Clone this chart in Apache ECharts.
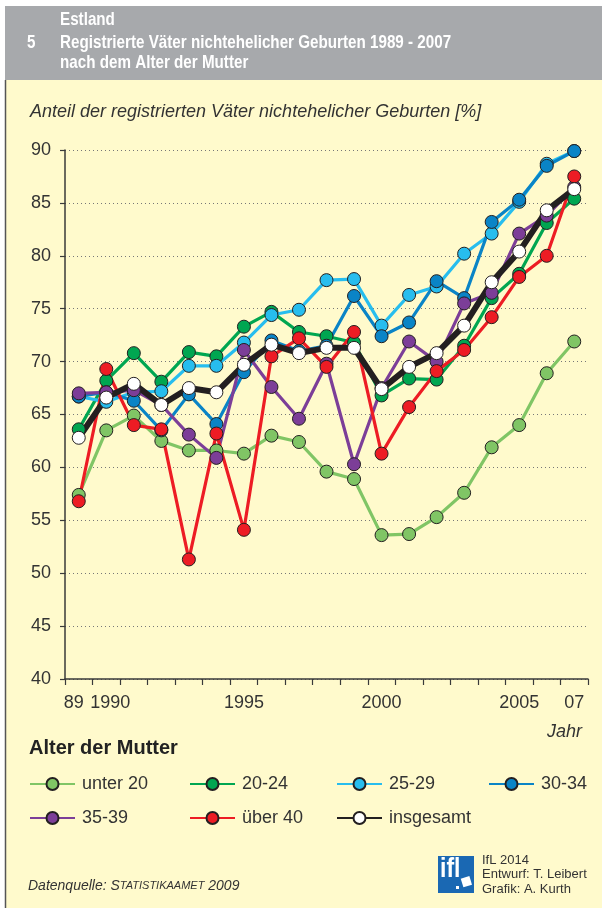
<!DOCTYPE html>
<html>
<head>
<meta charset="utf-8">
<script src="https://cdn.jsdelivr.net/npm/echarts@6/dist/echarts.min.js"></script>
<style>
  html, body { margin: 0; padding: 0; background: #fff; }
  #main { width: 602px; height: 911px; }
</style>
</head>
<body>
<div id="main"></div>
<script>
  var years = ['1989', '1990', '1991', '1992', '1993', '1994', '1995', '1996', '1997', '1998',
    '1999', '2000', '2001', '2002', '2003', '2004', '2005', '2006', '2007'];
  var xLabels = ['89', '1990', '', '', '', '', '1995', '', '', '', '', '2000', '', '', '', '', '2005', '', '07'];
  var seriesNames = ['unter 20', '20-24', '25-29', '30-34', '35-39', 'über 40', 'insgesamt'];

  var unter20 = [57.4, 63.5, 64.9, 62.5, 61.6, 61.6, 61.3, 63.0, 62.4, 59.6, 58.9, 53.6, 53.7, 55.3, 57.6, 61.9, 64.0, 68.9, 71.9];
  var age2024 = [63.6, 68.2, 70.8, 68.1, 70.9, 70.5, 73.3, 74.7, 72.8, 72.4, 71.8, 66.8, 68.4, 68.3, 71.5, 76.0, 78.3, 83.1, 85.4];
  var age2529 = [66.7, 66.2, 67.1, 67.2, 69.6, 69.6, 71.8, 74.4, 74.9, 77.7, 77.8, 73.4, 76.3, 77.1, 80.2, 82.1, 85.1, 88.7, 89.9];
  var age3034 = [66.7, 67.1, 66.3, 63.5, 66.9, 64.1, 69.0, 72.0, 71.0, 71.5, 76.2, 72.4, 73.7, 77.6, 76.0, 83.2, 85.3, 88.5, 89.9];
  var age3539 = [67.0, 67.1, 67.3, 65.9, 63.1, 60.9, 71.1, 67.6, 64.6, 69.8, 60.3, 67.5, 71.9, 70.0, 75.5, 76.5, 82.1, 83.8, 86.5];
  var ueber40 = [56.8, 69.3, 64.0, 63.6, 51.3, 63.2, 54.1, 70.5, 72.2, 69.5, 72.8, 61.3, 65.7, 69.1, 71.1, 74.2, 78.0, 80.0, 87.5];
  var insgesamt = [62.8, 66.6, 67.9, 65.9, 67.5, 67.1, 69.7, 71.6, 70.8, 71.3, 71.3, 67.4, 69.5, 70.8, 73.4, 77.5, 80.4, 84.3, 86.3];

  var font = "'Liberation Sans', Arial, sans-serif";
  var textColor = '#333';
  var outline = '#231f20';

  var colors = ['#80c565', '#00a651', '#27bdee', '#0a84c6', '#7c3e98', '#ed1c24', '#231f20'];
  var values = [unter20, age2024, age2529, age3034, age3539, ueber40, insgesamt];

  // legend positions (two rows)
  var legendLeft = [29, 189, 336, 488, 29, 189, 336];
  var legendTop = [775, 775, 775, 775, 809, 809, 809];

  var series = seriesNames.map(function (name, i) {
    var isTotal = name === 'insgesamt';
    return {
      name: name,
      type: 'line',
      data: values[i],
      symbol: 'circle',
      symbolSize: 13,
      lineStyle: { color: colors[i], width: isTotal ? 6 : 3.2 },
      itemStyle: {
        color: isTotal ? '#ffffff' : colors[i],
        borderColor: outline,
        borderWidth: 1
      },
      emphasis: { disabled: true }
    };
  });

  var legends = seriesNames.map(function (name, i) {
    return {
      data: [name],
      left: legendLeft[i],
      top: legendTop[i],
      padding: 0,
      itemWidth: 45,
      itemHeight: 15,
      selectedMode: false,
      textStyle: { fontFamily: font, fontSize: 18, color: textColor, padding: [0, 0, 0, 2] }
    };
  });

  // condensed header text: bold sans squeezed horizontally
  function headText(str, x, y) {
    return {
      type: 'text', x: x, y: y, scaleX: 0.8,
      style: { text: str, fontFamily: font, fontWeight: 'bold', fontSize: 19, fill: '#fff' }
    };
  }

  var chart = echarts.init(document.getElementById('main'));
  var option = {
    backgroundColor: '#ffffff',
    animation: false,
    grid: { left: 65, right: 14, top: 150, bottom: 232, containLabel: false },
    legend: legends,
    xAxis: {
      type: 'category',
      data: years,
      boundaryGap: true,
      axisLine: { lineStyle: { color: '#3a3a3a', width: 1.5 } },
      axisTick: { show: true, length: 6, lineStyle: { color: '#3a3a3a', width: 1.2 } },
      axisLabel: {
        interval: 0,
        margin: 15,
        fontFamily: font,
        fontSize: 18,
        color: textColor,
        formatter: function (v, i) {
          var t = xLabels[i];
          if (i === 0) return '{a|' + t + '}';
          if (i === 1) return '{b|' + t + '}';
          return t;
        },
        rich: {
          a: { fontFamily: font, fontSize: 18, color: textColor, padding: [0, 10, 0, 0] },
          b: { fontFamily: font, fontSize: 18, color: textColor, padding: [0, 0, 0, 8] }
        }
      },
      splitLine: { show: false }
    },
    yAxis: {
      type: 'value',
      min: 40,
      max: 90,
      interval: 5,
      axisLine: { show: true, lineStyle: { color: '#3a3a3a', width: 1.5 } },
      axisTick: { show: true, length: 5, lineStyle: { color: '#3a3a3a', width: 1.2 } },
      axisLabel: { margin: 14, fontFamily: font, fontSize: 18, color: textColor },
      splitLine: { show: true, lineStyle: { color: '#777', type: [1, 3], width: 1 } }
    },
    graphic: [
      // yellow panel + left border
      { type: 'rect', z: -10, shape: { x: 5, y: 80, width: 597, height: 828 }, style: { fill: '#fffacc' } },
      { type: 'line', z: -9, shape: { x1: 5.5, y1: 80, x2: 5.5, y2: 908 }, style: { stroke: '#555', lineWidth: 1.5 } },
      // grey header
      { type: 'rect', z: -10, shape: { x: 5, y: 6, width: 597, height: 74 }, style: { fill: '#a7a9ac' } },
      headText('Estland', 60, 10),
      headText('5', 27, 33),
      headText('Registrierte Väter nichtehelicher Geburten 1989 - 2007', 60, 33),
      headText('nach dem Alter der Mutter', 60, 53),
      // axis title
      { type: 'text', left: 30, top: 103, style: { text: 'Anteil der registrierten Väter nichtehelicher Geburten [%]', fontFamily: font, fontStyle: 'italic', fontSize: 18, fill: textColor } },
      { type: 'text', left: 547, top: 723, style: { text: 'Jahr', fontFamily: font, fontStyle: 'italic', fontSize: 18, fill: textColor } },
      // legend title
      { type: 'text', left: 29, top: 738, style: { text: 'Alter der Mutter', fontFamily: font, fontWeight: 'bold', fontSize: 20, fill: '#222' } },
      // source
      {
        type: 'text', left: 28, top: 879,
        style: {
          text: '{n|Datenquelle: }{n|S}{s|TATISTIKAAMET}{n| 2009}',
          rich: {
            n: { fontFamily: font, fontStyle: 'italic', fontSize: 14, fill: textColor },
            s: { fontFamily: font, fontStyle: 'italic', fontSize: 11, fill: textColor }
          }
        }
      },
      // IfL logo
      { type: 'rect', shape: { x: 438, y: 856, width: 36, height: 37 }, style: { fill: '#1a68b3' } },
      { type: 'text', x: 440, y: 856, scaleX: 0.85, style: { text: 'ifl', fontFamily: font, fontWeight: 'bold', fontSize: 27, fill: '#fff' } },
      { type: 'rect', rotation: 0.3, originX: 467, originY: 882, shape: { x: 462, y: 877, width: 9, height: 9 }, style: { fill: '#fff' } },
      { type: 'rect', shape: { x: 456, y: 886, width: 3, height: 3 }, style: { fill: '#fff' } },
      { type: 'text', left: 482, top: 853, style: { text: 'IfL 2014\nEntwurf: T. Leibert\nGrafik: A. Kurth', fontFamily: font, fontSize: 13, lineHeight: 14.5, fill: textColor } }
    ],
    series: series
  };
  chart.setOption(option);
</script>
</body>
</html>
